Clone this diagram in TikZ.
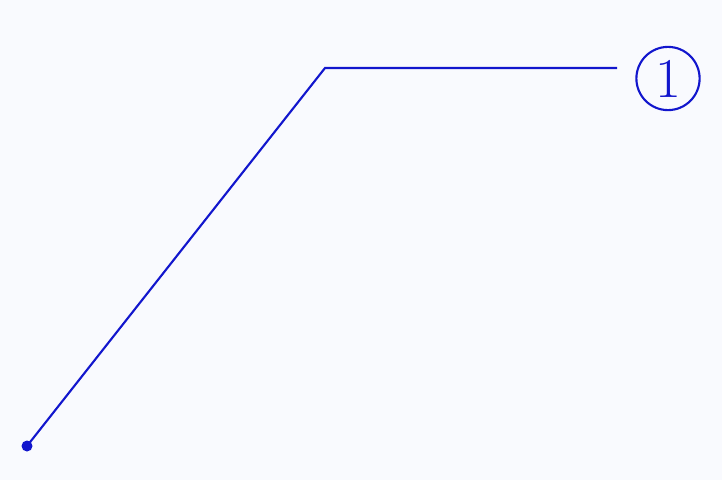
\documentclass[tikz,border=0pt]{standalone}
\usepackage{tikz}
\usepackage{xcolor}
\usetikzlibrary{positioning, calc}
\definecolor{leadblue}{RGB}{18,22,205}
\definecolor{paper}{RGB}{249,250,254}

\begin{document}
\begin{tikzpicture}[x=0.025cm,y=-0.025cm,semithick,line width=1.5pt]
          \tikzstyle{leader}=[draw=leadblue,line join=miter]
          \tikzstyle{balloon}=[circle,draw=leadblue,line width=1.5pt,text=leadblue,minimum size=1.58cm,inner sep=0pt,font=\fontsize{40}{40}\selectfont]

          \fill[paper] (0,0) rectangle (722,480);
          \useasboundingbox (0,0) rectangle (722,480);

          \coordinate (tip) at (27,446);
          \coordinate (knee) at (325,68);
          \coordinate (tail) at (617,68);
          \node[balloon] (num) at (668,78.5) {1};

          \fill[leadblue] (tip) circle (5.5);
          \path[leader] (tip) -- (knee) -- (tail);
        \end{tikzpicture}
\end{document}
